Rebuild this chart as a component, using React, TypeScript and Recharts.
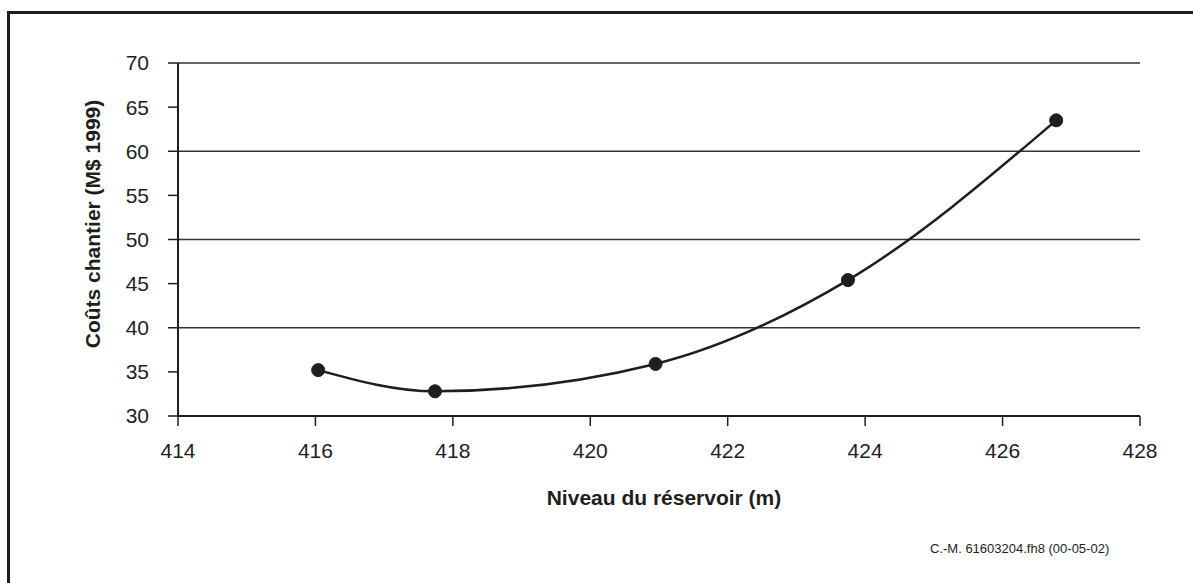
import {
  LineChart,
  Line,
  XAxis,
  YAxis,
  ReferenceLine,
} from 'recharts';

// reservoir level (m) vs site costs (M$ 1999)
const niveaux = [416.04, 417.74, 420.95, 423.75, 426.78];
const couts = [35.2, 32.8, 35.9, 45.4, 63.5];

const xTicks = [414, 416, 418, 420, 422, 424, 426, 428];
const yTicks = [30, 35, 40, 45, 50, 55, 60, 65, 70];
const gridValues = [40, 50, 60, 70];

const font = '"Liberation Sans", Arial, sans-serif';
const ink = '#1e1e1e';

export default function App() {
  const data = niveaux.map((x, i) => ({ niveau: x, cout: couts[i] }));

  return (
    <div style={{ position: 'relative', width: 1193, height: 583, overflow: 'hidden', background: '#fff', fontFamily: font }}>
      <style>{'body{margin:0}'}</style>
      {/* scanned frame, only top and left edges show */}
      <div
        style={{
          position: 'absolute',
          left: 7,
          top: 11,
          width: 1300,
          height: 700,
          borderTop: `3px solid ${ink}`,
          borderLeft: `3px solid ${ink}`,
        }}
      />
      <LineChart
        width={1193}
        height={583}
        data={data}
        margin={{ top: 63, right: 53, left: 0, bottom: 0 }}
        style={{ position: 'absolute', left: 0, top: 0 }}
      >
        {gridValues.map((v) => (
          <ReferenceLine key={v} y={v} stroke="#333" strokeWidth={1.5} />
        ))}
        <XAxis
          dataKey="niveau"
          type="number"
          domain={[414, 428]}
          ticks={xTicks}
          height={167}
          tickSize={10}
          tickMargin={17}
          axisLine={{ stroke: ink, strokeWidth: 2 }}
          tickLine={{ stroke: ink, strokeWidth: 1.5 }}
          tick={{ fill: ink, fontSize: 21, fontFamily: font }}
        />
        <YAxis
          type="number"
          domain={[30, 70]}
          ticks={yTicks}
          width={178}
          tickSize={10}
          tickMargin={19}
          axisLine={{ stroke: ink, strokeWidth: 2 }}
          tickLine={{ stroke: ink, strokeWidth: 1.5 }}
          tick={{ fill: ink, fontSize: 21, fontFamily: font }}
        />
        <Line
          dataKey="cout"
          type="monotone"
          stroke={ink}
          strokeWidth={2.5}
          dot={{ r: 6.5, fill: ink, stroke: ink, strokeWidth: 1 }}
          isAnimationActive={false}
        />
      </LineChart>
      <div
        style={{
          position: 'absolute',
          left: 93,
          top: 224,
          transform: 'translate(-50%, -50%) rotate(-90deg)',
          whiteSpace: 'nowrap',
          fontWeight: 'bold',
          fontSize: 21,
          color: ink,
        }}
      >
        Coûts chantier (M$ 1999)
      </div>
      <div
        style={{
          position: 'absolute',
          left: 664,
          top: 487,
          transform: 'translateX(-50%)',
          whiteSpace: 'nowrap',
          fontWeight: 'bold',
          fontSize: 21,
          lineHeight: '21px',
          color: ink,
        }}
      >
        Niveau du réservoir (m)
      </div>
      <div
        style={{
          position: 'absolute',
          left: 930,
          top: 542,
          whiteSpace: 'nowrap',
          fontSize: 13,
          lineHeight: '13px',
          color: ink,
        }}
      >
        C.-M. 61603204.fh8 (00-05-02)
      </div>
    </div>
  );
}
